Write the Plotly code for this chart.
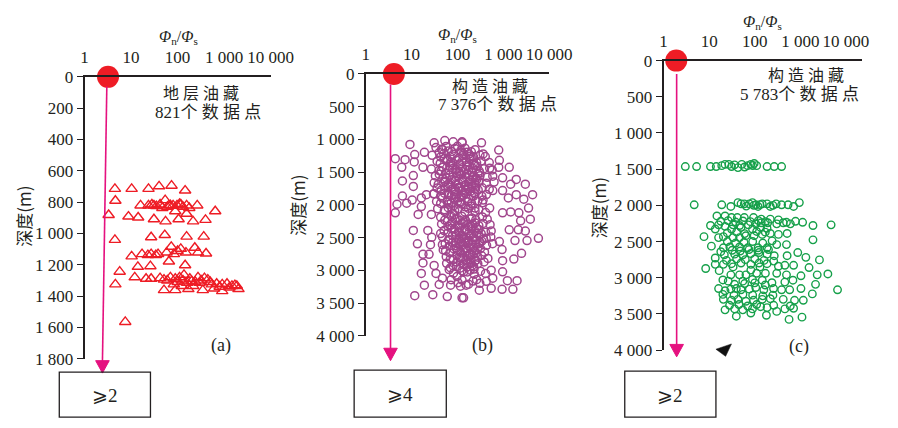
import plotly.graph_objects as go

W, H = 898, 428
INK = "#231F20"
SERIF = "Liberation Serif, Times New Roman, serif"
CJK = "Liberation Serif, Noto Sans CJK SC, serif"

# ---------------- data ----------------
ratio_ticks = [1, 10, 100, 1000, 10000]
ratio_text = ["1", "10", "100", "1 000", "10 000"]

depth_ticks_a = [0, 200, 400, 600, 800, 1000, 1200, 1400, 1600, 1800]
depth_text_a = ["0", "200", "400", "600", "800", "1 000", "1 200", "1 400", "1 600", "1 800"]
depth_ticks_bc = [0, 500, 1000, 1500, 2000, 2500, 3000, 3500, 4000]
depth_text_bc = ["0", "500", "1 000", "1 500", "2 000", "2 500", "3 000", "3 500", "4 000"]

# (a) stratigraphic reservoirs, 821 points
a_ratio = [4.5, 10.3, 23.7, 40, 74, 145, 4.6,
           16, 23.7, 28, 31, 47, 54, 65, 80, 97, 117, 156, 178, 264, 642, 89, 156,
           35, 42, 60, 70, 110, 130,
           3.3, 8.8, 14.2, 31, 55, 105, 215, 397,
           4.5, 27, 53, 156, 364,
           10.3, 17.2, 23, 27, 34, 38, 58, 73, 83, 100, 117, 151, 234, 274, 408, 65, 145,
           14, 26, 5.7,
           12, 21, 27, 42, 51, 70, 89, 110, 137, 183, 274, 377, 445, 544, 690, 908, 1150, 1470, 1870, 2030,
           51, 89, 170, 347, 610, 908, 83, 123, 215, 296,
           60, 100, 130, 160, 200, 240, 320, 500, 800, 1300, 1700,
           4.6, 7.5]
a_depth = [715, 715, 715, 699, 695, 726, 791,
           821, 821, 815, 821, 837, 787, 821, 821, 821, 815, 821, 837, 821, 858, 858, 874,
           825, 815, 830, 820, 812, 830,
           882, 892, 898, 909, 923, 909, 923, 913,
           1041, 1024, 1010, 1020, 1020,
           1146, 1132, 1138, 1132, 1138, 1132, 1122, 1085, 1132, 1112, 1098, 1122, 1091, 1122, 1128, 1179, 1203,
           1213, 1209, 1244,
           1280, 1289, 1289, 1285, 1295, 1280, 1289, 1280, 1264, 1289, 1280, 1285, 1295, 1325, 1321, 1325, 1321, 1335, 1335, 1355,
           1362, 1362, 1355, 1362, 1351, 1368, 1325, 1335, 1335, 1315,
           1300, 1310, 1300, 1315, 1305, 1310, 1300, 1310, 1340, 1345, 1330,
           1325, 1565]

# (b) structural reservoirs, 7 376 points
b_ratio = [9.2, 31, 53, 81, 126, 4.4, 7.2, 11.7, 19, 11.4, 6.1, 17.7, 10.9, 6.3, 10.9, 6.3, 4.8, 7.8, 10.3, 16.3, 21, 31, 4.4, 16.3, 13.9, 27,
           126, 335, 796, 363, 161, 1350, 796, 822, 1920, 3030, 1450, 966, 4360, 1920, 2800, 1290, 966, 590, 3560, 2190, 1450, 966, 505, 590, 505, 308, 222, 240, 363, 240,
           10.9, 22.6, 43, 27.5, 13.4, 25.8, 47, 17.7, 24, 17.7, 31, 34, 16.3, 47, 19, 40, 71, 11.7, 29, 60, 126, 116, 98,
           3890, 2390, 5840, 3300, 1800, 3030, 2130, 1350, 2500, 1700, 940, 966, 966, 2000, 1230, 1620, 940, 545, 300, 136, 590, 545, 425, 262, 155, 822, 425,
           34, 47, 56, 75, 88, 119, 146, 201, 243,
           28, 43, 50, 69, 81, 108, 131, 180, 224, 310, 405,
           36, 42, 60, 71, 95, 114, 155, 189, 262, 330, 495,
           27, 40, 48, 66, 79, 108, 128, 176, 213, 299, 376, 575,
           33, 40, 57, 68, 93, 111, 153, 184, 252, 311, 445,
           31, 38, 54, 64, 89, 106, 147, 176, 243, 296, 425, 630,
           36, 44, 62, 75, 104, 124, 170, 208, 284, 348, 495,
           30, 43, 52, 73, 87, 120, 145, 202, 242, 341, 428,
           35, 43, 61, 73, 101, 122, 168, 203, 279, 350,
           37, 52, 63, 87, 104, 145, 175, 242, 292, 412,
           43, 53, 74, 89, 124, 150, 207, 252, 350, 447,
           45, 62, 76, 103, 127, 175, 214, 293, 362, 515,
           51, 62, 86, 105, 144, 176, 242, 292, 410, 545,
           47, 64, 78, 107, 131, 180, 219, 298, 371, 535,
           54, 66, 91, 111, 152, 185, 252, 312, 432, 585,
           49, 68, 84, 113, 139, 190, 234, 318, 390,
           57, 70, 97, 118, 163, 199, 272, 336, 462,
           58, 80, 97, 134, 165, 226, 278, 380,
           66, 82, 113, 138, 190, 233, 318, 410,
           73, 103, 126, 175, 219, 308,
           40, 52, 68, 95, 130, 175, 62, 85, 120, 160, 210, 48, 72, 110, 140, 190, 270, 230, 55, 80, 100, 150, 200, 65, 90,
           60, 75, 95, 120, 150, 190, 240, 70, 85, 110, 140, 170, 210, 260, 100, 130, 160, 200, 280, 65, 55, 230, 180, 115, 90,
           45, 63, 100, 135, 185, 58, 78, 125, 170, 240, 44, 92, 118, 160, 215, 280, 50, 76, 98, 128, 200, 265,
           55, 88, 112, 150, 190, 250, 47, 66, 95, 134, 175, 225, 60, 84, 115, 150, 195, 52, 78,
           98, 138, 190, 245, 70, 112, 155, 205, 260, 330, 88, 122, 160, 200, 250, 340, 78, 105, 135, 175, 225, 290,
           95, 120, 160, 210, 260, 80, 110, 150, 195, 250, 95, 125, 165, 210]
b_depth = [1076, 1051, 1017, 1036, 1036, 1294, 1309, 1231, 1197, 1343, 1426, 1426, 1552, 1635, 1718, 1864, 1990, 1975, 1927, 1893, 1844, 1829, 2121, 2025, 2146, 2146,
           1051, 1051, 1163, 1221, 1197, 1426, 1426, 1319, 1611, 1684, 1684, 1586, 1844, 1844, 1913, 1893, 1781, 1781, 2049, 2121, 2107, 2121, 2049, 1562, 1440, 1513, 1367, 1660, 1927, 2049,
           2390, 2390, 2438, 2496, 2594, 2608, 2608, 2755, 2755, 2886, 2925, 3047, 3047, 3120, 3226, 3216, 3226, 3387, 3372, 3401, 3420, 3241, 3095,
           2219, 2244, 2511, 2545, 2545, 2399, 2380, 2380, 2740, 2828, 2682, 2852, 3022, 3158, 3158, 3290, 3290, 3275, 3304, 3420, 3120, 2998, 3168, 3143, 3226, 2560, 2511,
           1125, 1152, 1108, 1183, 1137, 1166, 1134, 1188, 1157,
           1243, 1268, 1219, 1262, 1228, 1283, 1247, 1224, 1266, 1238, 1262,
           1334, 1366, 1308, 1352, 1318, 1377, 1344, 1302, 1357, 1328, 1353,
           1452, 1476, 1423, 1468, 1443, 1487, 1433, 1471, 1438, 1483, 1448, 1466,
           1558, 1533, 1588, 1543, 1577, 1522, 1569, 1544, 1586, 1553, 1578,
           1662, 1688, 1642, 1678, 1634, 1672, 1698, 1652, 1687, 1643, 1668, 1652,
           1742, 1778, 1722, 1763, 1733, 1787, 1752, 1724, 1772, 1738, 1762,
           1832, 1868, 1822, 1858, 1843, 1878, 1824, 1863, 1833, 1866, 1842,
           1948, 1978, 1932, 1972, 1943, 1988, 1953, 1977, 1942, 1968,
           2058, 2098, 2043, 2088, 2062, 2108, 2053, 2097, 2072, 2118,
           2188, 2232, 2178, 2218, 2172, 2238, 2202, 2228, 2183, 2218,
           2292, 2328, 2272, 2312, 2282, 2338, 2292, 2318, 2283, 2302,
           2393, 2428, 2372, 2412, 2381, 2437, 2402, 2374, 2418, 2398,
           2488, 2533, 2471, 2512, 2478, 2542, 2503, 2468, 2521, 2492,
           2592, 2628, 2573, 2608, 2583, 2642, 2598, 2572, 2618, 2593,
           2688, 2733, 2672, 2712, 2681, 2738, 2702, 2668, 2722,
           2793, 2828, 2772, 2812, 2783, 2838, 2798, 2773, 2818,
           2892, 2928, 2873, 2908, 2882, 2943, 2898, 2872,
           2988, 3043, 2968, 3022, 2998, 3058, 3012, 3048,
           3142, 3188, 3148, 3212, 3163, 3198,
           1200, 1290, 1405, 1505, 1610, 1715, 1815, 1915, 1190, 1395, 1500, 1600, 1700, 1890, 1810, 1620, 1410, 1810, 1520, 1360, 1560, 1460, 1285, 1990, 1760,
           2250, 2360, 2460, 2560, 2660, 2760, 2860, 2960, 2150, 2420, 2520, 2300, 2600, 2440, 2700, 2820, 2950, 2330, 2650, 2540, 2700, 2980, 2480, 2240, 2620,
           1150, 1175, 1105, 1215, 1255, 1325, 1390, 1340, 1420, 1395, 1485, 1455, 1540, 1530, 1575, 1525, 1655, 1615, 1695, 1645, 1685, 1610,
           1735, 1795, 1745, 1775, 1795, 1745, 1895, 1845, 1885, 1855, 1905, 1865, 1955, 2010, 1965, 2030, 2015, 2075, 2130,
           2205, 2262, 2215, 2275, 2305, 2345, 2395, 2365, 2350, 2440, 2415, 2465, 2505, 2455, 2535, 2555, 2575, 2545, 2615, 2575, 2655, 2595,
           2655, 2735, 2705, 2765, 2735, 2835, 2805, 2855, 2895, 2845, 2945, 3005, 3025, 2925]

# (c) structural reservoirs, 5 783 points
c_ratio = [3.0, 5.3, 10.7, 14.3, 18.9, 22.3, 27.1, 30.9, 36, 42.8, 52, 60, 70, 82, 90, 97, 110, 186, 267, 388,
           4.7, 18.9, 29.9, 42.8, 50, 59, 65, 76, 89, 95, 105, 118, 130, 146, 186, 219, 250, 294, 388, 537, 710, 950,
           14.8, 22.3, 30.9, 41.4, 59, 94, 139, 219, 330, 496, 783, 1120, 10.7, 16.1, 22.3, 33.5, 46.4, 72, 105, 139, 192, 303, 421, 603, 1890, 4720,
           18, 26, 38, 55, 80, 120, 170,
           7.7, 16.1, 20.5, 33.5, 46.4, 64, 97, 146, 219, 330, 512, 1890, 13.6, 30.9, 50, 89, 134, 186,
           25, 40, 60, 110, 170, 25, 38, 58, 90, 150, 240,
           11.2, 20.5, 28.4, 46.4, 70, 118, 186, 303, 496, 877, 13.6, 21.5, 36.3, 54.7, 82, 124, 186, 267, 512, 1320, 2620,
           18, 32, 48, 75, 120, 200, 24, 40, 62, 100, 160, 260,
           8.4, 13.6, 20.5, 30.9, 50, 82, 124, 186, 330, 457, 710, 16.6, 29.9, 46.4, 64, 110, 171, 303, 496, 1030, 1550, 2340, 4010, 33.5, 82, 130,
           20, 36, 60, 100, 170,
           16.1, 22.3, 29.9, 39.4, 50, 76, 105, 158, 258, 388, 583, 1030, 1830, 2150, 6530, 26.2, 54.7, 89, 146, 238, 457, 687,
           20, 35, 55, 90, 150, 250,
           20.5, 30.9, 42.8, 64, 94, 146, 219, 421, 745, 1160, 22.3, 36.3, 54.7, 89, 134, 186, 303, 457, 710, 39.4, 82, 180, 565, 1085,
           28, 45, 70, 110, 260, 600]
c_depth = [1464, 1464, 1464, 1464, 1451, 1434, 1434, 1464, 1440, 1478, 1434, 1470, 1451, 1434, 1450, 1421, 1451, 1464, 1464, 1464,
           1992, 1992, 2015, 1962, 1979, 1979, 2010, 1979, 1962, 2000, 1992, 2015, 1990, 1979, 1979, 2015, 2000, 1979, 1992, 1992, 2015, 1962,
           2146, 2146, 2168, 2168, 2168, 2168, 2190, 2190, 2200, 2234, 2220, 2234, 2278, 2269, 2290, 2269, 2278, 2269, 2255, 2240, 2240, 2255, 2240, 2255, 2278, 2269,
           2220, 2210, 2230, 2215, 2225, 2210, 2225,
           2432, 2445, 2432, 2445, 2445, 2419, 2419, 2401, 2388, 2401, 2388, 2476, 2327, 2327, 2305, 2327, 2305, 2315,
           2380, 2370, 2390, 2360, 2370, 2500, 2520, 2510, 2500, 2520, 2490,
           2563, 2586, 2575, 2575, 2586, 2586, 2586, 2542, 2542, 2652, 2727, 2683, 2674, 2683, 2665, 2652, 2674, 2695, 2695, 2718, 2753,
           2640, 2620, 2630, 2610, 2620, 2610, 2760, 2740, 2750, 2740, 2760, 2770,
           2872, 2815, 2815, 2806, 2797, 2815, 2797, 2806, 2841, 2828, 2828, 2902, 2960, 2960, 2960, 2938, 2938, 2938, 2960, 2973, 2859, 2960, 2947, 2850, 2894, 2850,
           3030, 3090, 3080, 3070, 3100,
           3149, 3180, 3157, 3149, 3166, 3157, 3135, 3166, 3149, 3166, 3166, 3149, 3223, 3091, 3166, 3047, 3047, 3025, 3034, 3069, 3060, 3034,
           3230, 3240, 3230, 3240, 3250, 3240,
           3298, 3311, 3298, 3325, 3311, 3298, 3289, 3298, 3311, 3311, 3443, 3430, 3443, 3430, 3400, 3412, 3465, 3430, 3421, 3531, 3487, 3518, 3575, 3544,
           3380, 3370, 3390, 3370, 3380, 3390]

# threshold point on each panel (ratio, depth)
dot_ratio = [3.2, 4.1, 1.9]
dot_depth = [0, 0, 0]

panel_tags = ["(a)", "(b)", "(c)"]
reservoir_type = ["地 层 油 藏", "构 造 油 藏", "构 造 油 藏"]
point_count = ["821个 数 据 点", "7 376个 数 据 点", "5 783个 数 据 点"]
threshold_text = ["⩾2", "⩾4", "⩾2"]


# ---------------- layout helpers (pixel -> paper) ----------------
def fx(p):
    return p / W


def fy(p):
    return 1 - p / H


# plot-area frames in pixels: left, right, top, bottom
frames = [(83, 275, 71, 366), (373, 562, 68, 342), (680, 885, 54, 357)]
x_ranges = [[0, 4], [0, 4], [0, 4.36]]
y_ranges = [[1800, 0], [4000, 0], [4000, 0]]
y_ticks = [(depth_ticks_a, depth_text_a), (depth_ticks_bc, depth_text_bc), (depth_ticks_bc, depth_text_bc)]

fig = go.Figure()

series = [
    (a_ratio, a_depth, "triangle-up-open", 10, "#EE1C25", 1.4),
    (b_ratio, b_depth, "circle-open", 8, "#A1468D", 1.5),
    (c_ratio, c_depth, "circle-open", 7.5, "#16A04A", 1.4),
]

for i, (xs, ys, sym, size, col, lw) in enumerate(series):
    sfx = "" if i == 0 else str(i + 1)
    fig.add_trace(go.Scatter(
        x=xs, y=ys, mode="markers", xaxis="x" + sfx, yaxis="y" + sfx,
        marker=dict(symbol=sym, size=size, color=col, line=dict(color=col, width=lw)),
        showlegend=False, hoverinfo="skip"))
    fig.add_trace(go.Scatter(
        x=[dot_ratio[i]], y=[dot_depth[i]], mode="markers", xaxis="x" + sfx, yaxis="y" + sfx,
        marker=dict(symbol="circle", size=22, color="#EE1C25"),
        cliponaxis=False, showlegend=False, hoverinfo="skip"))

layout_axes = {}
for i, (l, r, t, b) in enumerate(frames):
    sfx = "" if i == 0 else str(i + 1)
    layout_axes["xaxis" + sfx] = dict(
        type="log", range=x_ranges[i], domain=[fx(l), fx(r)], anchor="y" + sfx, side="top",
        showline=True, linecolor=INK, linewidth=1.6, showgrid=False, zeroline=False,
        tickvals=ratio_ticks, ticktext=ratio_text, ticks="", ticklabelstandoff=5,
        tickfont=dict(family=SERIF, size=17, color=INK))
    layout_axes["yaxis" + sfx] = dict(
        range=y_ranges[i], domain=[fy(b), fy(t)], anchor="x" + sfx, side="left",
        showline=True, linecolor=INK, linewidth=1.6, showgrid=False, zeroline=False,
        tickvals=y_ticks[i][0], ticktext=y_ticks[i][1], ticks="outside", ticklen=6,
        tickwidth=1.4, tickcolor=INK, tickfont=dict(family=SERIF, size=17, color=INK))

shapes = []
annotations = []

# arrow lines, heads and threshold boxes: (line top x, top y, bottom x, head tip y)
arrows = [(106, 81, 101.5, 381), (398.5, 79, 398.5, 368), (693.5, 68, 693.5, 364)]
boxes = [(57, 151, 380, 427), (361, 456, 378, 427), (640, 734, 379, 427)]
PINK = "#E5117F"
for (x0, y0, x1, tip), (bl, br, bt, bb), txt in zip(arrows, boxes, threshold_text):
    head = 13
    shapes.append(dict(type="line", xref="paper", yref="paper",
                       x0=fx(x0), y0=fy(y0), x1=fx(x1), y1=fy(tip - head + 1),
                       line=dict(color=PINK, width=1.6)))
    shapes.append(dict(type="path", xref="paper", yref="paper",
                       path=f"M {fx(x1 - 7)},{fy(tip - head)} L {fx(x1 + 7)},{fy(tip - head)} L {fx(x1)},{fy(tip)} Z",
                       fillcolor=PINK, line=dict(color=PINK, width=1)))
    shapes.append(dict(type="rect", xref="paper", yref="paper",
                       x0=fx(bl), x1=fx(br), y0=fy(bb), y1=fy(bt),
                       line=dict(color=INK, width=1.3), fillcolor="rgba(0,0,0,0)"))
    annotations.append(dict(x=fx((bl + br) / 2), y=fy((bt + bb) / 2 + 1), xref="paper", yref="paper",
                            text=txt, showarrow=False, xanchor="center", yanchor="middle",
                            font=dict(family="Liberation Serif, DejaVu Serif, serif", size=19, color=INK)))

# small black pointer in panel (c)
shapes.append(dict(type="path", xref="paper", yref="paper",
                   path=f"M {fx(734)},{fy(356)} L {fx(750)},{fy(350.5)} L {fx(744)},{fy(363.5)} Z",
                   fillcolor="#111111", line=dict(color="#111111", width=0.5)))

# axis titles and panel texts (pixel centres)
x_titles = [(180, 30), (468, 28), (782, 14)]
y_titles = [(20, 217), (303, 205), (613, 208)]
type_pos = [(203, 88), (501, 81), (827, 70)]
count_pos = [(210, 108), (509, 100), (820, 89)]
tag_pos = [(224, 352), (493, 352), (820, 353)]

for i in range(3):
    annotations.append(dict(x=fx(x_titles[i][0]), y=fy(x_titles[i][1]), xref="paper", yref="paper",
                            text="<i>Φ</i><sub>n</sub>/<i>Φ</i><sub>s</sub>", showarrow=False,
                            xanchor="center", yanchor="middle",
                            font=dict(family=SERIF, size=16, color=INK)))
    annotations.append(dict(x=fx(y_titles[i][0]), y=fy(y_titles[i][1]), xref="paper", yref="paper",
                            text="深度(m)", textangle=-90, showarrow=False,
                            xanchor="center", yanchor="middle",
                            font=dict(family="Noto Sans CJK SC, Liberation Serif", size=17, color=INK)))
    annotations.append(dict(x=fx(type_pos[i][0]), y=fy(type_pos[i][1]), xref="paper", yref="paper",
                            text=reservoir_type[i], showarrow=False,
                            xanchor="center", yanchor="middle",
                            font=dict(family=CJK, size=16, color=INK)))
    annotations.append(dict(x=fx(count_pos[i][0]), y=fy(count_pos[i][1]), xref="paper", yref="paper",
                            text=point_count[i], showarrow=False,
                            xanchor="center", yanchor="middle",
                            font=dict(family=CJK, size=17, color=INK)))
    annotations.append(dict(x=fx(tag_pos[i][0]), y=fy(tag_pos[i][1]), xref="paper", yref="paper",
                            text=panel_tags[i], showarrow=False,
                            xanchor="center", yanchor="middle",
                            font=dict(family=SERIF, size=18, color=INK)))

fig.update_layout(
    width=W, height=H, margin=dict(l=0, r=0, t=0, b=0),
    paper_bgcolor="white", plot_bgcolor="white",
    shapes=shapes, annotations=annotations, **layout_axes)

fig.write_html("out.html")
